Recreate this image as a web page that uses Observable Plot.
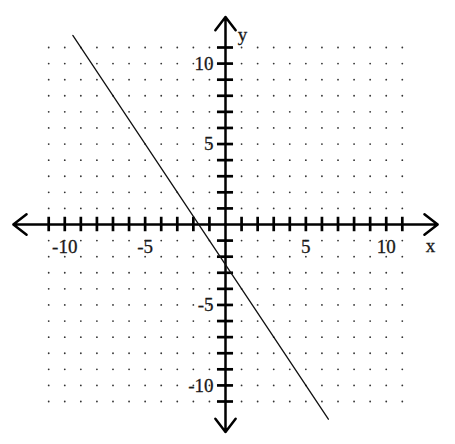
<!DOCTYPE html>
<html>
<head>
<meta charset="utf-8">
<script src="https://cdn.jsdelivr.net/npm/d3@7"></script>
<script src="https://cdn.jsdelivr.net/npm/@observablehq/plot@0.6"></script>
<style>
  html, body { margin: 0; padding: 0; background: #fff; }
  #chart svg { display: block; }
</style>
</head>
<body>
<div id="chart"></div>
<script>
// Grid / tick positions
const gridValues = [-11,-10,-9,-8,-7,-6,-5,-4,-3,-2,-1,0,1,2,3,4,5,6,7,8,9,10,11];
const xTickLabels = [-10, -5, 5, 10];
const yTickLabels = [10, 5, -5, -10];
// The plotted line (endpoints)
const lineX = [-9.5, 6.4];
const lineY = [11.75, -12.1];
// Axis extents (arrow tips)
const xAxisEnds = [-13.2, 13.2];
const yAxisEnds = [-12.9, 12.9];

const dots = [];
for (const gx of gridValues) for (const gy of gridValues) {
  if (gx !== 0 && gy !== 0) dots.push({x: gx, y: gy});
}
const ticks = gridValues.filter(v => v !== 0);
const lineData = lineX.map((x, i) => ({x, y: lineY[i]}));

const font = "Liberation Serif, Times New Roman, serif";
const textStyle = {fontFamily: font, fontSize: 19, fill: "#1a1a1a", stroke: "#1a1a1a", strokeWidth: 0.3};

const chart = Plot.plot({
  width: 455,
  height: 444,
  margin: 0,
  x: {domain: [-11, 11], range: [48.2, 401.8], axis: null},
  y: {domain: [-11, 11], range: [401, 47], axis: null},
  style: {background: "#fff"},
  marks: [
    Plot.dot(dots, {x: "x", y: "y", r: 0.9, fill: "#333", stroke: null}),
    // axes with arrowheads
    Plot.arrow([{x1: 0, x2: xAxisEnds[0]}, {x1: 0, x2: xAxisEnds[1]}], {
      x1: "x1", x2: "x2", y1: 0, y2: 0, stroke: "#000", strokeWidth: 2.5,
      headLength: 10, headAngle: 75
    }),
    Plot.arrow([{y1: 0, y2: yAxisEnds[0]}, {y1: 0, y2: yAxisEnds[1]}], {
      y1: "y1", y2: "y2", x1: 0, x2: 0, stroke: "#000", strokeWidth: 2.5,
      headLength: 10, headAngle: 75
    }),
    // tick marks
    Plot.ruleX(ticks, {x: d => d, y1: -0.45, y2: 0.45, stroke: "#000", strokeWidth: 2.7}),
    Plot.ruleY(ticks, {y: d => d, x1: -0.5, x2: 0.5, stroke: "#000", strokeWidth: 2.7}),
    // the line
    Plot.line(lineData, {x: "x", y: "y", stroke: "#111", strokeWidth: 1.3}),
    // tick labels
    Plot.text(xTickLabels, {x: d => d, y: 0, dy: 22, text: d => String(d), ...textStyle}),
    Plot.text(yTickLabels, {x: 0, y: d => d, dx: -12, textAnchor: "end", text: d => String(d), ...textStyle}),
    Plot.text(["x"], {x: 12.76, y: -1.3, text: d => d, ...textStyle}),
    Plot.text(["y"], {x: 1.06, y: 11.8, text: d => d, ...textStyle})
  ]
});
document.getElementById("chart").appendChild(chart);
</script>
</body>
</html>
